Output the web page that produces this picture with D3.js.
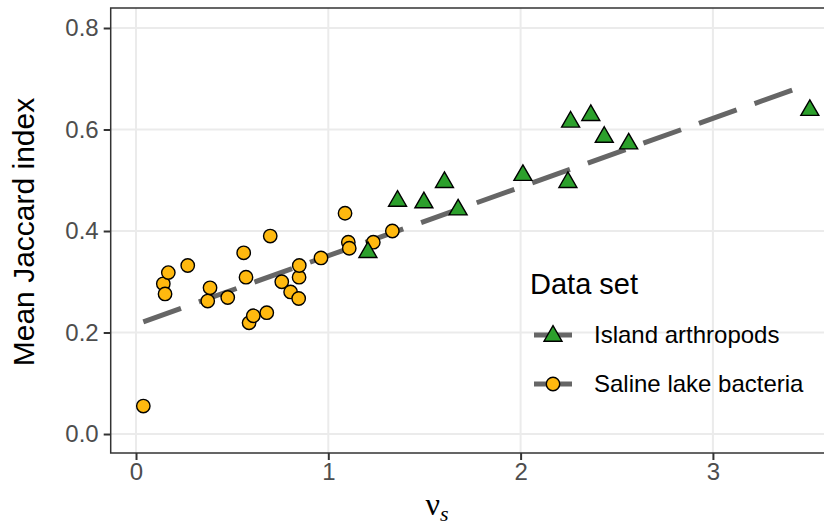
<!DOCTYPE html>
<html>
<head>
<meta charset="utf-8">
<script src="https://cdn.jsdelivr.net/npm/d3@7"></script>
<style>
  body { margin: 0; background: #fff; }
  text { font-family: "Liberation Sans", Arial, sans-serif; }
</style>
</head>
<body>
<div id="chart"></div>
<script>
// island arthropods (triangles)
var islandX = [1.206, 1.360, 1.497, 1.604, 1.675, 2.012, 2.246, 2.260, 2.365, 2.435, 2.562, 3.504];
var islandY = [0.358, 0.459, 0.456, 0.496, 0.442, 0.510, 0.496, 0.615, 0.628, 0.585, 0.572, 0.638];
// saline lake bacteria (circles)
var salineX = [0.038, 0.142, 0.151, 0.168, 0.269, 0.373, 0.385, 0.477, 0.560, 0.572, 0.588, 0.610,
               0.680, 0.698, 0.758, 0.804, 0.846, 0.848, 0.849, 0.962, 1.087, 1.104, 1.109, 1.234, 1.333];
var salineY = [0.055, 0.296, 0.276, 0.318, 0.332, 0.262, 0.288, 0.269, 0.357, 0.309, 0.219, 0.233,
               0.239, 0.390, 0.300, 0.280, 0.267, 0.309, 0.332, 0.347, 0.435, 0.378, 0.366, 0.378, 0.400];
// fitted line
var fitIntercept = 0.216;
var fitSlope = 0.1353;
var xTicks = [0, 1, 2, 3];
var yTicks = [0.0, 0.2, 0.4, 0.6, 0.8];
var legendLabels = ["Island arthropods", "Saline lake bacteria"];

var width = 824, height = 526;
var panel = { left: 110.7, top: 8, bottom: 453 };

var svg = d3.select('#chart').append('svg')
    .attr('width', width)
    .attr('height', height);

var x = d3.scaleLinear().domain([-0.1316, 3.5725]).range([panel.left, 823]);
var y = d3.scaleLinear().domain([-0.0374, 0.8394]).range([panel.bottom, panel.top]);

// grid
svg.append('g').selectAll('line')
    .data(xTicks).join('line')
    .attr('x1', d => x(d)).attr('x2', d => x(d))
    .attr('y1', panel.top).attr('y2', panel.bottom)
    .attr('stroke', '#ebebeb').attr('stroke-width', 2);
svg.append('g').selectAll('line')
    .data(yTicks).join('line')
    .attr('x1', panel.left).attr('x2', width + 10)
    .attr('y1', d => y(d)).attr('y2', d => y(d))
    .attr('stroke', '#ebebeb').attr('stroke-width', 2);

var allX = salineX.concat(islandX);
var x0 = d3.min(allX), x1 = d3.max(allX);

svg.append('line')
    .attr('x1', x(x0)).attr('y1', y(fitIntercept + fitSlope * x0))
    .attr('x2', x(x1)).attr('y2', y(fitIntercept + fitSlope * x1))
    .attr('stroke', '#666666')
    .attr('stroke-width', 5)
    .attr('stroke-dasharray', '40 19');

var triangle = d3.symbol().type(d3.symbolTriangle).size(140);

svg.append('g').selectAll('circle')
    .data(d3.zip(salineX, salineY)).join('circle')
    .attr('cx', d => x(d[0]))
    .attr('cy', d => y(d[1]))
    .attr('r', 6.7)
    .attr('fill', '#FFB90F')
    .attr('stroke', '#000')
    .attr('stroke-width', 1.4);

svg.append('g').selectAll('path')
    .data(d3.zip(islandX, islandY)).join('path')
    .attr('d', triangle)
    .attr('transform', d => `translate(${x(d[0])},${y(d[1])})`)
    .attr('fill', '#2CA02C')
    .attr('stroke', '#000')
    .attr('stroke-width', 1.4);

// panel border
svg.append('rect')
    .attr('x', panel.left).attr('y', panel.top)
    .attr('width', width + 10 - panel.left).attr('height', panel.bottom - panel.top)
    .attr('fill', 'none').attr('stroke', '#333').attr('stroke-width', 1.5);

// axes
var xAxis = svg.append('g')
    .attr('transform', `translate(0,${panel.bottom})`)
    .call(d3.axisBottom(x).tickValues(xTicks).tickSize(7).tickPadding(3).tickFormat(d3.format('d')));
var yAxis = svg.append('g')
    .attr('transform', `translate(${panel.left},0)`)
    .call(d3.axisLeft(y).tickValues(yTicks).tickSize(7).tickPadding(5).tickFormat(d3.format('.1f')));
[xAxis, yAxis].forEach(function(a) {
  a.select('.domain').remove();
  a.selectAll('.tick line').attr('stroke', '#333').attr('stroke-width', 2);
  a.selectAll('.tick text').attr('fill', '#4d4d4d')
    .style('font-family', '"Liberation Sans", Arial, sans-serif')
    .style('font-size', '24px');
});

// axis titles
svg.append('text')
    .attr('transform', 'translate(34,232) rotate(-90)')
    .attr('text-anchor', 'middle')
    .style('font-size', '30px')
    .text('Mean Jaccard index');

var xt = svg.append('text')
    .attr('x', 437).attr('y', 515)
    .attr('text-anchor', 'middle')
    .style('font-family', '"Liberation Serif", "Times New Roman", serif')
    .style('font-size', '32px');
xt.append('tspan').text('ν');
xt.append('tspan').attr('dy', 6).style('font-size', '22px').style('font-style', 'italic').text('s');

// legend
var leg = svg.append('g').attr('transform', 'translate(530,0)');
leg.append('text').attr('x', 0).attr('y', 294).style('font-size', '29px').text('Data set');
var rows = leg.selectAll('g').data(legendLabels).join('g')
    .attr('transform', (d, i) => `translate(0,${335 + i * 49})`);
rows.append('line')
    .attr('x1', 4).attr('x2', 42).attr('y1', 0).attr('y2', 0)
    .attr('stroke', '#666666').attr('stroke-width', 5);
rows.append('path')
    .attr('d', (d, i) => i === 0 ? triangle() : d3.symbol().type(d3.symbolCircle).size(Math.PI * 6.7 * 6.7)())
    .attr('transform', (d, i) => `translate(23,${i === 0 ? 1 : 0})`)
    .attr('fill', (d, i) => i === 0 ? '#2CA02C' : '#FFB90F')
    .attr('stroke', '#000').attr('stroke-width', 1.4);
rows.append('text')
    .attr('x', 64).attr('y', 0).attr('dy', '0.35em')
    .style('font-size', '24px')
    .text(d => d);
</script>
</body>
</html>
